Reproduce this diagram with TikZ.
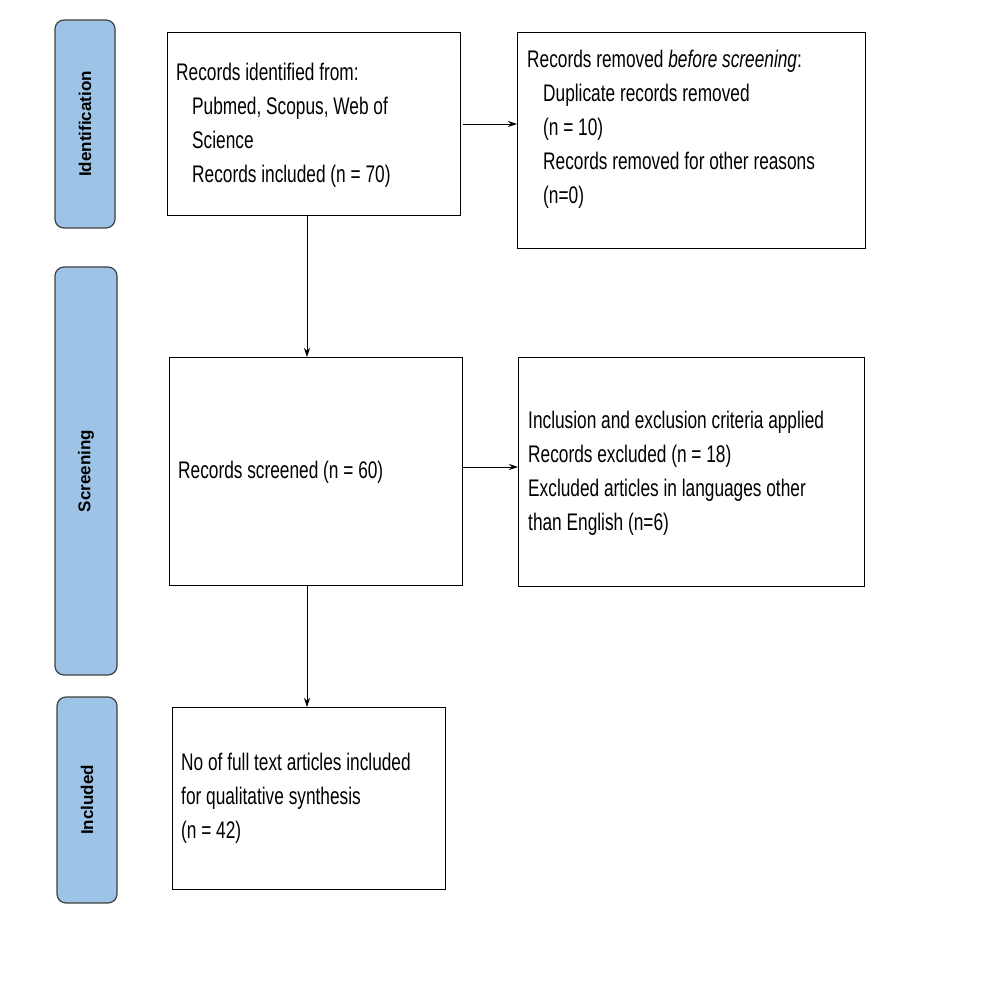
\documentclass[tikz,border=0pt]{standalone}
\usepackage{fontspec}
\setmainfont{Liberation Sans}[FakeStretch=0.72]
\newfontfamily\sidefont{Liberation Sans}
\usetikzlibrary{arrows.meta}
\begin{document}
\begin{tikzpicture}[x=1pt,y=-1pt,
 side/.style={draw=black!75,line width=1.2pt,fill=sideblue,rounded corners=9pt},
 box/.style={draw,line width=1pt},
 txt/.style={anchor=west,align=left,font=\fontsize{24}{34}\selectfont,inner sep=0pt},
 lab/.style={rotate=90,font=\sidefont\bfseries\fontsize{17}{20}\selectfont},
 arr/.style={-{Stealth[length=9pt,width=6pt]},line width=1pt}]
\definecolor{sideblue}{HTML}{9DC3E6}
\useasboundingbox[fill=white] (0,0) rectangle (986,999);
\draw[side] (55,20) rectangle (115,228);
\draw[side] (55,267) rectangle (117,675);
\draw[side] (57,697) rectangle (117,903);
\node[lab] (l1) at (85,124) {Identification};
\node[lab] (l2) at (86,471) {Screening};
\node[lab] (l3) at (87,800) {Included};
\draw[box] (167,32) rectangle (460,215);
\draw[box] (517,32) rectangle (865,248);
\draw[box] (169,357) rectangle (462,585);
\draw[box] (518,357) rectangle (864,586);
\draw[box] (172,707) rectangle (445,889);
\node[txt] (t1) at (176,125) {Records identified from:\\\hspace{16pt}Pubmed, Scopus, Web of\\\hspace{16pt}Science\\\hspace{16pt}Records included (n = 70)};
\node[txt] (t2) at (527,129) {Records removed \emph{before screening}:\\\hspace{16pt}Duplicate records removed\\\hspace{16pt}(n = 10)\\\hspace{16pt}Records removed for other reasons\\\hspace{16pt}(n=0)};
\node[txt] (t3) at (178,472) {Records screened (n = 60)};
\node[txt] (t4) at (528,473) {Inclusion and exclusion criteria applied\\Records excluded (n = 18)\\Excluded articles in languages other\\than English (n=6)};
\node[txt] (t5) at (181,798) {No of full text articles included\\for qualitative synthesis\\(n = 42)};
\coordinate (a1) at (307,215); \coordinate (b1) at (307,357);
\coordinate (a2) at (307,585); \coordinate (b2) at (307,707);
\coordinate (a3) at (463,124); \coordinate (b3) at (517,124);
\coordinate (a4) at (463,467); \coordinate (b4) at (518,467);
\draw[arr] (a1)--(b1); \draw[arr] (a2)--(b2);
\draw[arr] (a3)--(b3); \draw[arr] (a4)--(b4);
\end{tikzpicture}
\end{document}
